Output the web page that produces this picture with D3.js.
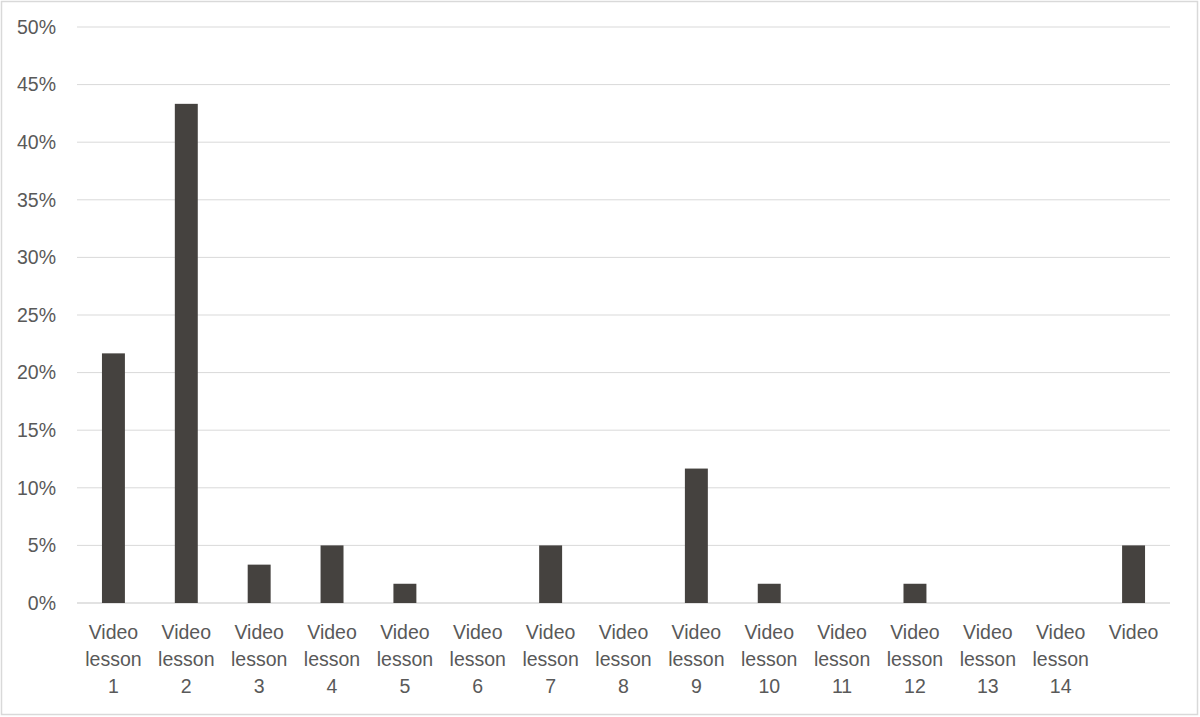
<!DOCTYPE html>
<html>
<head>
<meta charset="utf-8">
<script src="https://d3js.org/d3.v7.min.js"></script>
<style>
  body { margin: 0; background: #fff; }
  text { font-family: "Liberation Sans", Arial, sans-serif; fill: #595959; }
</style>
</head>
<body>
<svg width="1200" height="717"></svg>
<script>
// categories and values (share of respondents)
const lessons = ["Video lesson 1", "Video lesson 2", "Video lesson 3", "Video lesson 4", "Video lesson 5",
  "Video lesson 6", "Video lesson 7", "Video lesson 8", "Video lesson 9", "Video lesson 10",
  "Video lesson 11", "Video lesson 12", "Video lesson 13", "Video lesson 14", "Video"];
const shares = [0.2167, 0.4333, 0.0333, 0.05, 0.0167, 0, 0.05, 0, 0.1167, 0.0167, 0, 0.0167, 0, 0, 0.05];
const yTicks = [0, 0.05, 0.1, 0.15, 0.2, 0.25, 0.3, 0.35, 0.4, 0.45, 0.5];

const svg = d3.select("svg");
const plotLeft = 77, plotRight = 1170, plotTop = 27, plotBottom = 603;

// chart border
svg.append("rect")
  .attr("x", 1.5).attr("y", 1.5)
  .attr("width", 1196).attr("height", 713)
  .attr("fill", "none")
  .attr("stroke", "#d9d9d9")
  .attr("stroke-width", 1.5);

const x = d3.scaleBand().domain(lessons).range([plotLeft, plotRight]).paddingInner(0.685).paddingOuter(0.3425);
const y = d3.scaleLinear().domain([0, 0.5]).range([plotBottom, plotTop]);

// gridlines
svg.append("g")
  .selectAll("line")
  .data(yTicks)
  .enter()
  .append("line")
  .attr("x1", plotLeft).attr("x2", plotRight)
  .attr("y1", d => y(d)).attr("y2", d => y(d))
  .attr("stroke", "#d9d9d9")
  .attr("stroke-width", d => d === 0 ? 1.5 : 1);

// y axis labels
const yAxis = d3.axisLeft(y).tickValues(yTicks).tickFormat(d3.format(".0%")).tickSize(0).tickPadding(21);
svg.append("g")
  .attr("transform", `translate(${plotLeft},0)`)
  .call(yAxis)
  .call(g => g.select(".domain").remove())
  .selectAll("text")
  .attr("font-size", "19.5px")
  .attr("fill", "#595959")
  .attr("font-family", "Liberation Sans, Arial, sans-serif");

// bars
svg.append("g")
  .selectAll("rect")
  .data(lessons)
  .enter()
  .append("rect")
  .attr("x", d => x(d))
  .attr("width", x.bandwidth())
  .attr("y", (d, i) => y(shares[i]))
  .attr("height", (d, i) => y(0) - y(shares[i]))
  .attr("fill", "#45423f");

// x labels, wrapped on spaces like the original
const xl = svg.append("g")
  .selectAll("text")
  .data(lessons)
  .enter()
  .append("text")
  .attr("text-anchor", "middle")
  .attr("font-size", "19.5px")
  .attr("y", 639);

xl.each(function(d) {
  const parts = d.split(" ");
  const t = d3.select(this);
  const cx = x(d) + x.bandwidth() / 2;
  parts.forEach((p, i) => {
    t.append("tspan")
      .attr("x", cx)
      .attr("dy", i === 0 ? 0 : 27)
      .text(p);
  });
});
</script>
</body>
</html>
